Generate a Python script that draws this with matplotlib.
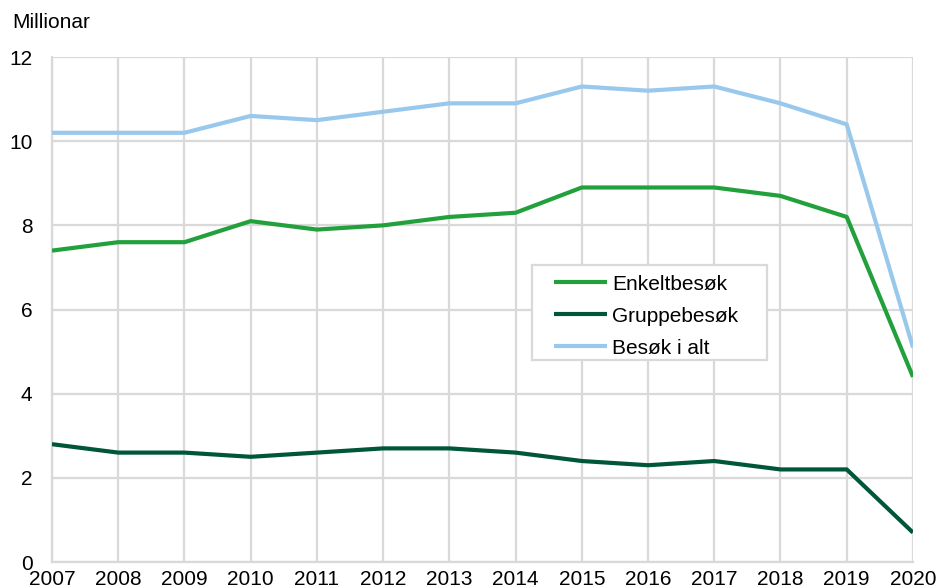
import matplotlib
matplotlib.use("Agg")
import matplotlib.pyplot as plt
from matplotlib.patches import Rectangle

years = list(range(2007, 2021))
enkelt = [7.4, 7.6, 7.6, 8.1, 7.9, 8.0, 8.2, 8.3, 8.9, 8.9, 8.9, 8.7, 8.2, 4.4]
gruppe = [2.8, 2.6, 2.6, 2.5, 2.6, 2.7, 2.7, 2.6, 2.4, 2.3, 2.4, 2.2, 2.2, 0.7]
total = [10.2, 10.2, 10.2, 10.6, 10.5, 10.7, 10.9, 10.9, 11.3, 11.2, 11.3, 10.9, 10.4, 5.1]
labels = ["Enkeltbesøk", "Gruppebesøk", "Besøk i alt"]
colors = ["#22a03c", "#00563b", "#98c8ec"]

plt.rcParams['font.family'] = ['Liberation Sans', 'DejaVu Sans']
fs = 15
fig = plt.figure(figsize=(9.38, 5.88), dpi=100)
ax = fig.add_axes([0.0554, 0.0442, 0.9179, 0.8588])

for vals, lab, c in zip([enkelt, gruppe, total], labels, colors):
    ax.plot(years, vals, color=c, lw=3, label=lab, solid_capstyle='butt', zorder=3)

ax.set_xlim(2007, 2020)
ax.set_ylim(0, 12)
ax.set_xticks(years)
ax.set_yticks(range(0, 13, 2))
ax.grid(True, color="#d9d9d9", lw=1.6)
for s in ["top", "right"]:
    ax.spines[s].set_visible(False)
for s in ["left", "bottom"]:
    ax.spines[s].set_color("#d9d9d9")
    ax.spines[s].set_linewidth(1.6)
ax.tick_params(length=0, labelsize=fs, colors="black")
ax.tick_params(axis='x', pad=6)
ax.tick_params(axis='y', pad=14)
ax.set_axisbelow(True)

fig.text(12/938, 1 - 22/588, "Millionar", fontsize=fs, va='center', ha='left')

# legend frame
frame = Rectangle((0.5575, 0.400), 0.8304 - 0.5575, 0.588 - 0.400, transform=ax.transAxes,
                  facecolor="white", edgecolor="#d9d9d9", lw=1.6, zorder=4)
ax.add_patch(frame)
leg = ax.legend(loc='upper left', bbox_to_anchor=(0.583, 0.569), borderaxespad=0,
                fontsize=fs, frameon=False, handlelength=2.55,
                handletextpad=0.25, borderpad=0, labelspacing=0.62)
leg.set_zorder(5)

fig.savefig("out.png", dpi=100)
